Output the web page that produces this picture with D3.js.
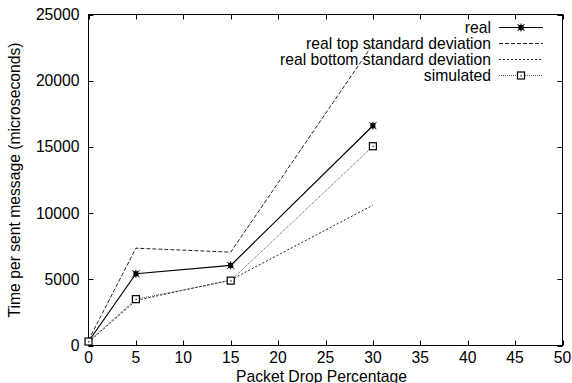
<!DOCTYPE html>
<html><head><meta charset="utf-8">
<script src="https://cdn.jsdelivr.net/npm/d3@7"></script>
<style>body{margin:0;background:#fff}svg{display:block}text{font-family:"Liberation Sans",Arial,sans-serif;fill:#000}</style>
</head><body><svg id="c" width="572" height="383"></svg>
<script>
const xValues = [0, 5, 15, 30];
const realValues = [300, 5420, 6050, 16600];
const topStdValues = [400, 7350, 7050, 22750];
const bottomStdValues = [250, 3400, 4950, 10600];
const simulatedValues = [300, 3500, 4900, 15050];
const xTicks = [0,5,10,15,20,25,30,35,40,45,50];
const yTicks = [0,5000,10000,15000,20000,25000];
const seriesNames = ["real","real top standard deviation","real bottom standard deviation","simulated"];

const svg = d3.select("#c");
const L=88.5, R=562.5, T=14.5, B=345.5;
const x = d3.scaleLinear().domain([0,50]).range([L,R]);
const y = d3.scaleLinear().domain([0,25000]).range([B,T]);
const fs = 15.7;

svg.append("rect").attr("x",L).attr("y",T).attr("width",R-L).attr("height",B-T)
  .attr("fill","none").attr("stroke","#000").attr("stroke-width",1);

const tl=5;
const gx = svg.append("g");
xTicks.forEach(v=>{
  const px=Math.round(x(v))+0.5;
  gx.append("line").attr("x1",px).attr("x2",px).attr("y1",B).attr("y2",B-tl).attr("stroke","#000");
  gx.append("line").attr("x1",px).attr("x2",px).attr("y1",T).attr("y2",T+tl).attr("stroke","#000");
  gx.append("text").attr("x",x(v)).attr("y",B+17).attr("text-anchor","middle").attr("font-size",fs).text(v);
});
const gy = svg.append("g");
yTicks.forEach(v=>{
  const py=Math.round(y(v))+0.5;
  gy.append("line").attr("x1",L).attr("x2",L+tl).attr("y1",py).attr("y2",py).attr("stroke","#000");
  gy.append("line").attr("x1",R).attr("x2",R-tl).attr("y1",py).attr("y2",py).attr("stroke","#000");
  gy.append("text").attr("x",L-9).attr("y",y(v)+5.5).attr("text-anchor","end").attr("font-size",fs).text(v);
});
svg.append("text").attr("x",(L+R)/2-4).attr("y",381.5).attr("text-anchor","middle").attr("font-size",fs).text("Packet Drop Percentage");
svg.append("text").attr("transform",`translate(20,${(T+B)/2}) rotate(-90)`).attr("text-anchor","middle").attr("font-size",fs).text("Time per sent message (microseconds)");

const styles = [
  {vals:realValues, dash:null, color:"#000", w:1.2, marker:"star"},
  {vals:topStdValues, dash:"4,2", color:"#222", w:1, marker:null},
  {vals:bottomStdValues, dash:"2,2", color:"#222", w:1, marker:null},
  {vals:simulatedValues, dash:"1,1", color:"#555", w:1, marker:"square"}
];
const line = d3.line();
function drawMarker(g, type, cx, cy){
  if(type==="star"){
    g.append("rect").attr("x",cx-2.5).attr("y",cy-2.5).attr("width",5).attr("height",5).attr("fill","#000");
    g.append("path").attr("d",`M${cx-3.5},${cy-3.5}L${cx+3.5},${cy+3.5}M${cx-3.5},${cy+3.5}L${cx+3.5},${cy-3.5}M${cx},${cy-4}L${cx},${cy+4}`).attr("stroke","#000").attr("stroke-width",1);
  } else if(type==="square"){
    g.append("rect").attr("x",cx-3.5).attr("y",cy-3.5).attr("width",7).attr("height",7).attr("fill","#fff").attr("stroke","#000").attr("stroke-width",1.2);
    g.append("rect").attr("x",cx-0.5).attr("y",cy-0.5).attr("width",1.5).attr("height",1.5).attr("fill","#555");
  }
}
const gl = svg.append("g");
styles.forEach(s=>{
  gl.append("path").attr("d",line(xValues.map((xv,i)=>[x(xv),y(s.vals[i])])))
    .attr("fill","none").attr("stroke",s.color).attr("stroke-width",s.w).attr("stroke-dasharray",s.dash);
});
styles.forEach(s=>{
  if(s.marker) xValues.forEach((xv,i)=>drawMarker(gl,s.marker,x(xv),y(s.vals[i])));
});

const lg = svg.append("g");
const rowY=[27.5,43.5,59.5,75.5];
styles.forEach((s,i)=>{
  lg.append("text").attr("x",491).attr("y",rowY[i]+5.5).attr("text-anchor","end").attr("font-size",fs).text(seriesNames[i]);
  lg.append("line").attr("x1",499).attr("x2",543).attr("y1",rowY[i]).attr("y2",rowY[i])
    .attr("stroke",s.color).attr("stroke-width",s.w).attr("stroke-dasharray",s.dash);
  if(s.marker) drawMarker(lg,s.marker,521,rowY[i]);
});
</script></body></html>
